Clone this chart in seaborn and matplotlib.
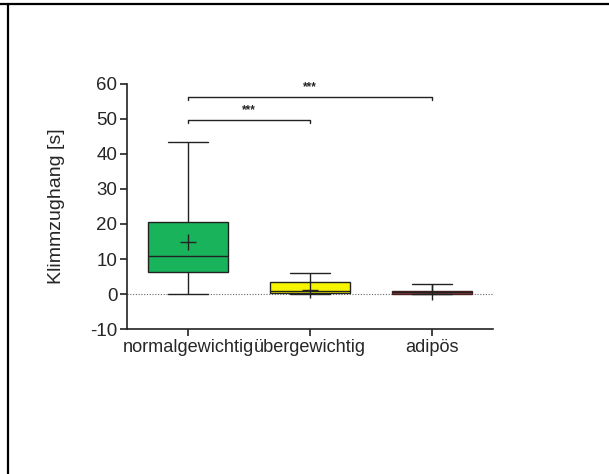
import matplotlib
matplotlib.use("Agg")
import matplotlib.pyplot as plt
from matplotlib.lines import Line2D
import numpy as np
import pandas as pd
import seaborn as sns

sns.set_style("white")
plt.rcParams["font.family"] = ["Liberation Sans", "DejaVu Sans"]
plt.rcParams["axes.unicode_minus"] = False

# Groups and their five-number summaries (min, Q1, median, Q3, max)
categories = ["normalgewichtig", "übergewichtig", "adipös"]
summary_normal = [0.0, 6.3, 10.9, 20.6, 43.5]
summary_over = [0.0, 0.2, 0.9, 3.4, 6.0]
summary_adipose = [0.0, 0.0, 0.5, 0.9, 3.0]
means = [14.9, 1.2, 0.6]
box_colors = ["#18B35A", "#F5F500", "#8E3B3B"]

# Significance brackets: (group a, group b, height, label)
brackets = [(0, 1, 49.6, "***"), (0, 2, 56.2, "***")]

y_ticks = [-10, 0, 10, 20, 30, 40, 50, 60]

df = pd.DataFrame({
    "Gruppe": np.repeat(categories, 5),
    "Klimmzughang": summary_normal + summary_over + summary_adipose,
})

fig = plt.figure(figsize=(6.09, 4.74), dpi=100)
ax = fig.add_axes([0.2085, 0.3059, 0.601, 0.5169])

sns.boxplot(
    data=df, x="Gruppe", y="Klimmzughang", hue="Gruppe",
    order=categories, hue_order=categories, palette=box_colors,
    whis=(0, 100), width=0.66, linewidth=1.0, linecolor="#222222",
    saturation=1, legend=False, ax=ax, zorder=3,
)
# Slightly lighter outline on the flat adipös box so its fill stays visible
ax.patches[2].set_edgecolor("#4A2020")

# Group means as "+" markers
ax.scatter(range(len(categories)), means, marker="+", s=130,
           color="#222222", linewidths=1.0, zorder=5)

# Dotted zero reference line
ax.axhline(0, color="#666666", linestyle=(0, (1, 1.5)), linewidth=0.8, zorder=1)

# Significance brackets
for a, b, h, label in brackets:
    ax.plot([a, a, b, b], [h - 0.7, h, h, h - 0.7], color="#222222",
            linewidth=1.0, clip_on=False)
    ax.text((a + b) / 2, h + 1.3, label, ha="center", va="bottom",
            fontsize=8.5, fontweight="bold")

ax.set_xlim(-0.5, 2.5)
ax.set_ylim(-10, 60)
ax.set_yticks(y_ticks)
ax.set_xlabel("")
ax.set_ylabel("Klimmzughang [s]", fontsize=14, labelpad=18)
ax.tick_params(axis="y", labelsize=13.5)
ax.tick_params(axis="x", labelsize=13.1)
ax.tick_params(axis="both", direction="out", length=5,
               width=1.2, color="#222222", bottom=True, left=True, pad=2)
for side in ["top", "right"]:
    ax.spines[side].set_visible(False)
for side in ["left", "bottom"]:
    ax.spines[side].set_linewidth(1.2)
    ax.spines[side].set_color("#222222")

# Outer frame lines along the top and left edges
fig.add_artist(Line2D([0, 1], [1 - 4 / 474, 1 - 4 / 474], color="black",
                      linewidth=1.6, transform=fig.transFigure))
fig.add_artist(Line2D([7.5 / 609, 7.5 / 609], [0, 1 - 4 / 474], color="black",
                      linewidth=1.6, transform=fig.transFigure))

fig.savefig("out.png", dpi=100)
